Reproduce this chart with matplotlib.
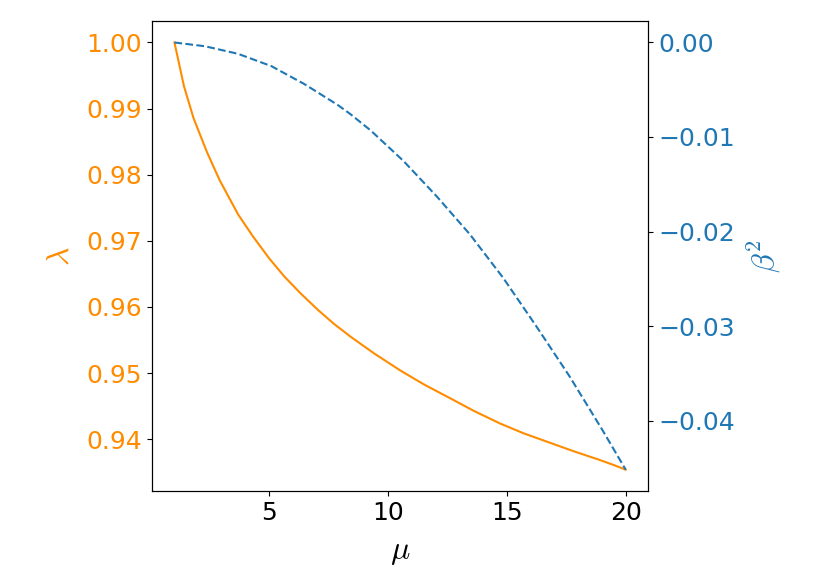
import matplotlib as mpl
mpl.use("Agg")

import matplotlib.pyplot as plt  # noqa

mpl.rcParams['mathtext.fontset'] = 'cm'

# values
mu_lam = [1.0, 1.4, 1.8, 2.36, 2.9, 3.68, 4.3, 5.0, 5.63, 6.3, 7.03, 7.7, 8.42, 9.4,
          10.51, 11.5, 12.61, 13.6, 14.7, 15.7, 16.79, 17.8, 18.88, 19.5, 20.0]
lam = [1.0, 0.9934, 0.9886, 0.9835, 0.9792, 0.9740, 0.9707, 0.9673, 0.9646, 0.9621,
       0.9596, 0.9575, 0.9555, 0.9530, 0.9504, 0.9483, 0.9462, 0.9443, 0.9424,
       0.9409, 0.9395, 0.9382, 0.9369, 0.9361, 0.9354]

mu_beta = [1.0, 2.29, 3.68, 5.08, 6.47, 7.87, 8.42, 9.26, 10.65, 12.05, 13.44,
           14.84, 16.23, 17.63, 19.02, 20.0]
beta2 = [0.0, -0.0004, -0.0012, -0.0025, -0.0044, -0.0066, -0.0076, -0.0093,
         -0.01255, -0.0163, -0.0203, -0.0249, -0.0300, -0.0353, -0.0410, -0.0452]

FS = 18
LFS = 23
c_lam = 'darkorange'
c_beta = 'tab:blue'

fig = plt.figure(figsize=(8.3, 5.87), dpi=100)
ax1 = fig.add_axes([0.183, 0.1635, 0.598, 0.8005])

ax1.plot(mu_lam, lam, color=c_lam, lw=1.5)
ax1.set_xlabel(r'$\mu$', fontsize=LFS, labelpad=8)
ax1.set_ylabel(r'$\lambda$', fontsize=LFS, color=c_lam, labelpad=8)
ax1.tick_params(axis='x', labelsize=FS)
ax1.tick_params(axis='y', labelsize=FS, labelcolor=c_lam)
ax1.set_xticks([5, 10, 15, 20])

ar1 = ax1.twinx()
ar1.plot(mu_beta, beta2, color=c_beta, ls='--', lw=1.5)
ar1.set_ylabel(r'$\beta^2$', fontsize=LFS, color=c_beta, labelpad=8)
ar1.tick_params(axis='y', labelsize=FS, labelcolor=c_beta)
ar1.set_yticks([0.0, -0.01, -0.02, -0.03, -0.04])

plt.savefig('out.png', dpi=100)
